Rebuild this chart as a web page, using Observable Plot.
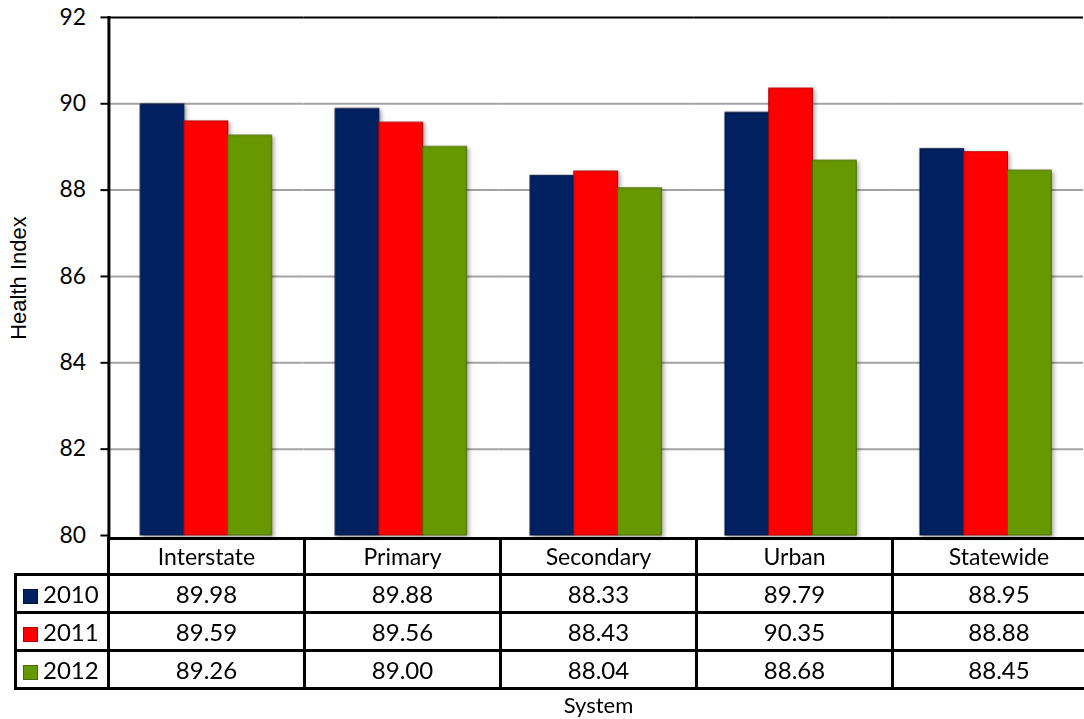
<!DOCTYPE html>
<html><head><meta charset="utf-8">
<script src="https://cdn.jsdelivr.net/npm/d3@7"></script>
<script src="https://cdn.jsdelivr.net/npm/@observablehq/plot@0.6"></script>
<style>
html,body{margin:0;padding:0;background:#fff;}
#wrap{position:relative;width:1084px;height:719px;overflow:hidden;font-family:Lato,sans-serif;color:#000;}
#chart{position:absolute;left:0;top:0;}
#tbl{position:absolute;left:14px;top:537px;border-collapse:collapse;table-layout:fixed;width:1090px;}
#tbl td{border:3px solid #000;text-align:center;padding:0;font-size:24px;line-height:1;}
#tbl tr.head td{font-size:23px;}
#tbl tr.head{height:36px;}
#tbl tr.row{height:38px;}
#tbl td.blank{border-top:none;border-left:none;}
#tbl td.key{text-align:left;padding-left:6px;white-space:nowrap;}
.sw{display:inline-block;width:15px;height:15px;margin-right:5px;vertical-align:-1px;box-sizing:border-box;border:1px solid;}
#xlabel{position:absolute;left:108px;width:981px;top:692px;text-align:center;font-size:22px;line-height:1.2;}
#ylabel{position:absolute;left:19px;top:278px;transform:translate(-50%,-50%) rotate(-90deg);white-space:nowrap;
  font-family:"Liberation Sans",Arial,sans-serif;font-size:22px;}
</style></head>
<body>
<div id="wrap">
  <div id="chart"></div>
  <table id="tbl"></table>
  <div id="xlabel"></div>
  <div id="ylabel"></div>
</div>
<script>
const systems = ["Interstate", "Primary", "Secondary", "Urban", "Statewide"];
const years = ["2010", "2011", "2012"];
const values2010 = [89.98, 89.88, 88.33, 89.79, 88.95];
const values2011 = [89.59, 89.56, 88.43, 90.35, 88.88];
const values2012 = [89.26, 89.00, 88.04, 88.68, 88.45];
const yTicks = [80, 82, 84, 86, 88, 90, 92];
const gridTicks = [82, 84, 86, 88, 90];
const yMin = 80, yMax = 92;
const fillColors = ["#002060", "#ff0000", "#669900"];
const edgeColors = ["#00133a", "#b00000", "#476b00"];
const yLabel = "Health Index";
const xLabel = "System";

const series = [values2010, values2011, values2012];
const data = [];
systems.forEach((s, i) => years.forEach((y, j) => data.push({system: s, year: y, value: series[j][i]})));

const chart = Plot.plot({
  width: 1090, height: 540,
  marginLeft: 108, marginRight: 1, marginTop: 17, marginBottom: 2,
  style: {fontFamily: "Lato, sans-serif", fontSize: "23px", background: "transparent", overflow: "visible"},
  fx: {domain: systems, padding: 0, axis: null},
  x: {domain: years, paddingInner: 0, paddingOuter: 0.71, axis: null},
  y: {domain: [yMin, yMax]},
  color: {domain: years, range: fillColors},
  marks: [
    Plot.ruleY(gridTicks, {stroke: "#a3a3a3", strokeWidth: 2}),
    Plot.ruleY([yMax], {stroke: "#000", strokeWidth: 2}),
    Plot.barY(data, {fx: "system", x: "year", y1: yMin, y2: "value", fill: "year",
      stroke: d => edgeColors[years.indexOf(d.year)], strokeWidth: 1}),
    Plot.axisY(yTicks, {tickSize: 8, tickPadding: 15, strokeWidth: 2, fontSize: 23, label: null, fill: "#000"}),
    Plot.frame({anchor: "left", fx: () => systems[0], stroke: "#000", strokeWidth: 3})
  ]
});
document.getElementById("chart").appendChild(chart);
chart.querySelectorAll('g[aria-label="bar"]').forEach(g => g.style.filter = "drop-shadow(2px 2px 2px rgba(0,0,0,0.35))");

// data table
const tbl = document.getElementById("tbl");
const cg = document.createElement("colgroup");
[93, 196, 196, 196, 196, 213].forEach(w => { const c = document.createElement("col"); c.style.width = w + "px"; cg.appendChild(c); });
tbl.appendChild(cg);
const head = document.createElement("tr"); head.className = "head";
const blank = document.createElement("td"); blank.className = "blank"; head.appendChild(blank);
systems.forEach(s => { const td = document.createElement("td"); td.textContent = s; head.appendChild(td); });
tbl.appendChild(head);
years.forEach((y, j) => {
  const tr = document.createElement("tr"); tr.className = "row";
  const key = document.createElement("td"); key.className = "key";
  const sw = document.createElement("span"); sw.className = "sw";
  sw.style.background = fillColors[j]; sw.style.borderColor = edgeColors[j];
  key.appendChild(sw); key.appendChild(document.createTextNode(y));
  tr.appendChild(key);
  series[j].forEach(v => { const td = document.createElement("td"); td.textContent = v.toFixed(2); tr.appendChild(td); });
  tbl.appendChild(tr);
});
document.getElementById("xlabel").textContent = xLabel;
document.getElementById("ylabel").textContent = yLabel;
</script>
</body></html>
